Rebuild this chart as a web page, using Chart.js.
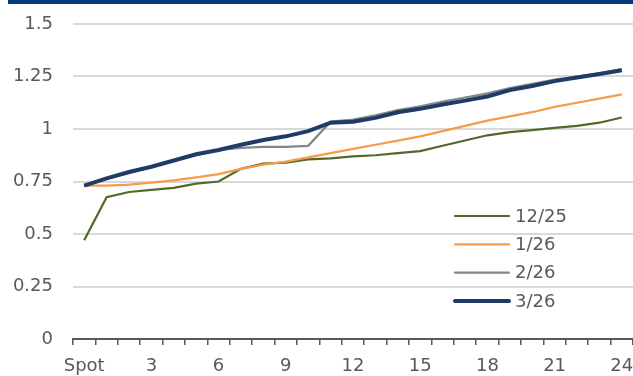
<!DOCTYPE html>
<html>
<head>
<meta charset="utf-8">
<script src="https://cdn.jsdelivr.net/npm/chart.js@4"></script>
<style>
  html, body { margin: 0; padding: 0; background: #ffffff; }
  #wrap { position: relative; width: 633px; height: 376px; }
</style>
</head>
<body>
<div id="wrap"><canvas id="c" width="633" height="376"></canvas></div>
<script>
const categories = ['Spot','1','2','3','4','5','6','7','8','9','10','11','12','13','14','15','16','17','18','19','20','21','22','23','24'];
const seriesNames = ['12/25', '1/26', '2/26', '3/26'];
const dec25 = [0.47,0.675,0.70,0.71,0.72,0.74,0.75,0.81,0.835,0.84,0.855,0.86,0.87,0.875,0.885,0.895,0.92,0.945,0.97,0.985,0.995,1.005,1.015,1.03,1.055];
const jan26 = [0.73,0.73,0.735,0.745,0.755,0.77,0.785,0.81,0.83,0.845,0.865,0.885,0.905,0.925,0.945,0.965,0.99,1.015,1.04,1.06,1.08,1.105,1.125,1.145,1.165];
const feb26 = [0.73,0.765,0.79,0.82,0.85,0.875,0.90,0.91,0.915,0.915,0.92,1.035,1.045,1.065,1.09,1.108,1.13,1.15,1.17,1.195,1.215,1.235,1.25,1.265,1.285];
const mar26 = [0.73,0.765,0.795,0.82,0.85,0.88,0.90,0.925,0.948,0.965,0.99,1.03,1.035,1.053,1.08,1.096,1.117,1.135,1.155,1.185,1.205,1.228,1.245,1.262,1.28];
const yTicks = [0, 0.25, 0.5, 0.75, 1, 1.25, 1.5];

const FONT = "'DejaVu Sans', sans-serif";
const TEXT = '#595959';

const topBar = {
  id: 'topBar',
  beforeDraw(chart) {
    const ctx = chart.ctx;
    ctx.save();
    ctx.fillStyle = '#023A7A';
    ctx.fillRect(8, 0, chart.width - 8, 4);
    ctx.restore();
  }
};

const customLegend = {
  id: 'customLegend',
  afterDraw(chart) {
    const ctx = chart.ctx;
    const x0 = 455, x1 = 509, y0 = 216, dy = 28.3;
    ctx.save();
    ctx.font = '18px ' + FONT;
    ctx.textBaseline = 'middle';
    ctx.textAlign = 'left';
    chart.data.datasets.forEach((ds, i) => {
      const y = y0 + i * dy;
      ctx.strokeStyle = ds.borderColor;
      ctx.lineWidth = ds.borderWidth;
      ctx.lineCap = 'round';
      ctx.beginPath();
      ctx.moveTo(x0, y);
      ctx.lineTo(x1, y);
      ctx.stroke();
      ctx.fillStyle = TEXT;
      ctx.fillText(ds.label, x1 + 6, y + 1);
    });
    ctx.restore();
  }
};

const colors = ['#4F6A2A', '#F79A4A', '#878787', '#1F3B66'];
const widths = [2.2, 2.2, 2.2, 4];
const values = [dec25, jan26, feb26, mar26];

new Chart(document.getElementById('c'), {
  type: 'line',
  data: {
    labels: categories,
    datasets: seriesNames.map((name, i) => ({
      label: name,
      data: values[i],
      borderColor: colors[i],
      backgroundColor: colors[i],
      borderWidth: widths[i],
      pointRadius: 0,
      tension: 0,
      fill: false,
      order: 3 - i
    }))
  },
  options: {
    responsive: false,
    animation: false,
    devicePixelRatio: 1,
    layout: { padding: { top: 24, right: 0, left: 0, bottom: 0 } },
    plugins: { legend: { display: false }, tooltip: { enabled: false } },
    scales: {
      x: {
        type: 'category',
        offset: true,
        grid: { display: true, drawOnChartArea: false, drawTicks: true, tickLength: 6, color: '#595959', lineWidth: 1.5, offset: true },
        border: { display: true, color: '#595959', width: 2 },
        ticks: {
          autoSkip: false, maxRotation: 0, padding: 11,
          color: TEXT, font: { family: FONT, size: 18 },
          callback: function(v, i) { return i % 3 === 0 ? categories[i] : ''; }
        },
        afterFit(scale) { scale.height = 37; scale.paddingLeft = 0; scale.paddingRight = 0; }
      },
      y: {
        min: 0, max: 1.5,
        afterBuildTicks(scale) { scale.ticks = yTicks.map(v => ({ value: v })); },
        grid: { color: '#D9D9D9', lineWidth: 2, drawTicks: false },
        border: { display: false },
        ticks: {
          padding: 20, color: TEXT, font: { family: FONT, size: 18 },
          callback: v => String(v)
        },
        afterFit(scale) { scale.width = 73; scale.paddingTop = 0; scale.paddingBottom = 0; }
      }
    }
  },
  plugins: [topBar, customLegend]
});
</script>
</body>
</html>
